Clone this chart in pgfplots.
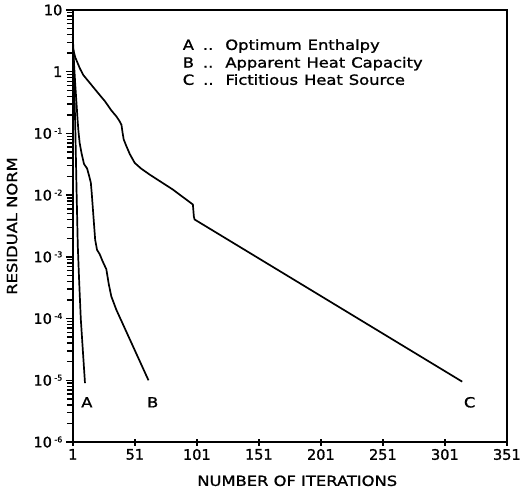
\documentclass[border=0pt]{standalone}
\usepackage{pgfplots}
\pgfplotsset{compat=1.18}
\usepackage{fontspec}
\setmainfont{DejaVu Sans}[FakeBold=1.2]
\newfontfamily\wide{DejaVu Sans}[FakeStretch=1.17,FakeBold=1.2]
\newcommand\supexp[1]{\,\raisebox{5pt}{\fontsize{8}{8}\selectfont #1}}
\pgfplotstableread{
x y
1 3.6
2 0.7
3 0.12
4 0.012
5 1.5e-3
6 4.5e-4
7.4 1e-4
9 3.2e-5
10.8 9e-6
}\dataA
\pgfplotstableread{
x y
1 3.6
2 1.3
3 0.6
4 0.3
4.8 0.17
5.5 0.11
6.5 0.07
8 0.048
10 0.032
12.5 0.027
14 0.021
15.5 0.016
16.2 0.011
19 0.0019
20.5 0.0013
22.7 0.0011
25 8.5e-4
28 6.3e-4
30 3.6e-4
32 2.3e-4
36 1.4e-4
62 1e-5
}\dataB
\pgfplotstableread{
x y
1 2.4
3 1.7
6.6 1.14
9.3 0.89
16 0.61
21.4 0.45
27 0.33
32.1 0.235
36 0.19
38.5 0.16
40.2 0.138
41.2 0.1
42 0.08
44.2 0.062
47 0.046
50.9 0.0333
56 0.027
63 0.0215
81.7 0.0123
97.8 0.00705
98.6 0.0045
99.2 0.00403
315 9.5e-6
}\dataC
\begin{document}
\begin{tikzpicture}
\path (-73pt,-46pt) rectangle (451pt,443pt);
\begin{axis}[
  at={(0,0)}, anchor=south west,
  scale only axis, width=435pt, height=433pt,
  xmin=1, xmax=351, ymin=1e-6, ymax=10, ymode=log,
  xtick={1,51,101,151,201,251,301,351},
  ytick={1e-6,1e-5,1e-4,1e-3,1e-2,1e-1,1,10},
  minor ytick={2e-6,3e-6,4e-6,5e-6,6e-6,7e-6,8e-6,9e-6,
    2e-5,3e-5,4e-5,5e-5,6e-5,7e-5,8e-5,9e-5,
    2e-4,3e-4,4e-4,5e-4,6e-4,7e-4,8e-4,9e-4,
    2e-3,3e-3,4e-3,5e-3,6e-3,7e-3,8e-3,9e-3,
    2e-2,3e-2,4e-2,5e-2,6e-2,7e-2,8e-2,9e-2,
    0.2,0.3,0.4,0.5,0.6,0.7,0.8,0.9,
    2,3,4,5,6,7,8,9},
  yticklabels={{10\supexp{-6}},{10\supexp{-5}},{10\supexp{-4}},{10\supexp{-3}},{10\supexp{-2}},{10\supexp{-1}},{1\hspace{3pt}},{10\hspace{8pt}}},
  xticklabels={1,51,101,151,201,251,301,351},
  xtick pos=bottom, ytick pos=left,
  xtick align=center, ytick align=outside,
  major tick length=7pt, minor tick length=6pt,
  axis line style={line width=1.5pt},
  tick style={draw=black, line width=1.5pt},
  minor tick style={draw=black, line width=1.4pt},
  ticklabel style={font=\fontsize{14.5}{14.5}\selectfont},
  xlabel={NUMBER OF ITERATIONS},
  ylabel={RESIDUAL NORM},
  every axis x label/.style={at={(axis description cs:0.517,-0.1016)},anchor=base,inner sep=0pt,font=\wide\fontsize{14}{14}\selectfont},
  every axis y label/.style={at={(axis description cs:-0.140,0.5)},rotate=90,anchor=center,inner sep=0pt,font=\wide\fontsize{14}{14}\selectfont},
  clip=false,
]
\addplot[black, line width=1.7pt] table[x=x,y=y] {\dataA};
\addplot[black, line width=1.7pt] table[x=x,y=y] {\dataB};
\addplot[black, line width=1.7pt] table[x=x,y=y] {\dataC};
\node[font=\wide\fontsize{14}{14}\selectfont] at (axis cs:12.3,4.4e-6) {A};
\node[font=\wide\fontsize{14}{14}\selectfont] at (axis cs:65.4,4.4e-6) {B};
\node[font=\wide\fontsize{14}{14}\selectfont] at (axis cs:321,4.4e-6) {C};
\node[anchor=base west, inner sep=0pt, font=\wide\fontsize{14}{14}\selectfont] at (axis description cs:0.2529,0.9076) {A\hspace{9pt}..\hspace{12pt}Optimum\hspace{6pt}Enthalpy};
\node[anchor=base west, inner sep=0pt, font=\wide\fontsize{14}{14}\selectfont] at (axis description cs:0.2529,0.8667) {B\hspace{9pt}..\hspace{12pt}Apparent\hspace{6pt}Heat\hspace{6pt}Capacity};
\node[anchor=base west, inner sep=0pt, font=\wide\fontsize{14}{14}\selectfont] at (axis description cs:0.2529,0.8268) {C\hspace{9pt}..\hspace{12pt}Fictitious\hspace{6pt}Heat\hspace{6pt}Source};
\end{axis}
\end{tikzpicture}
\end{document}
